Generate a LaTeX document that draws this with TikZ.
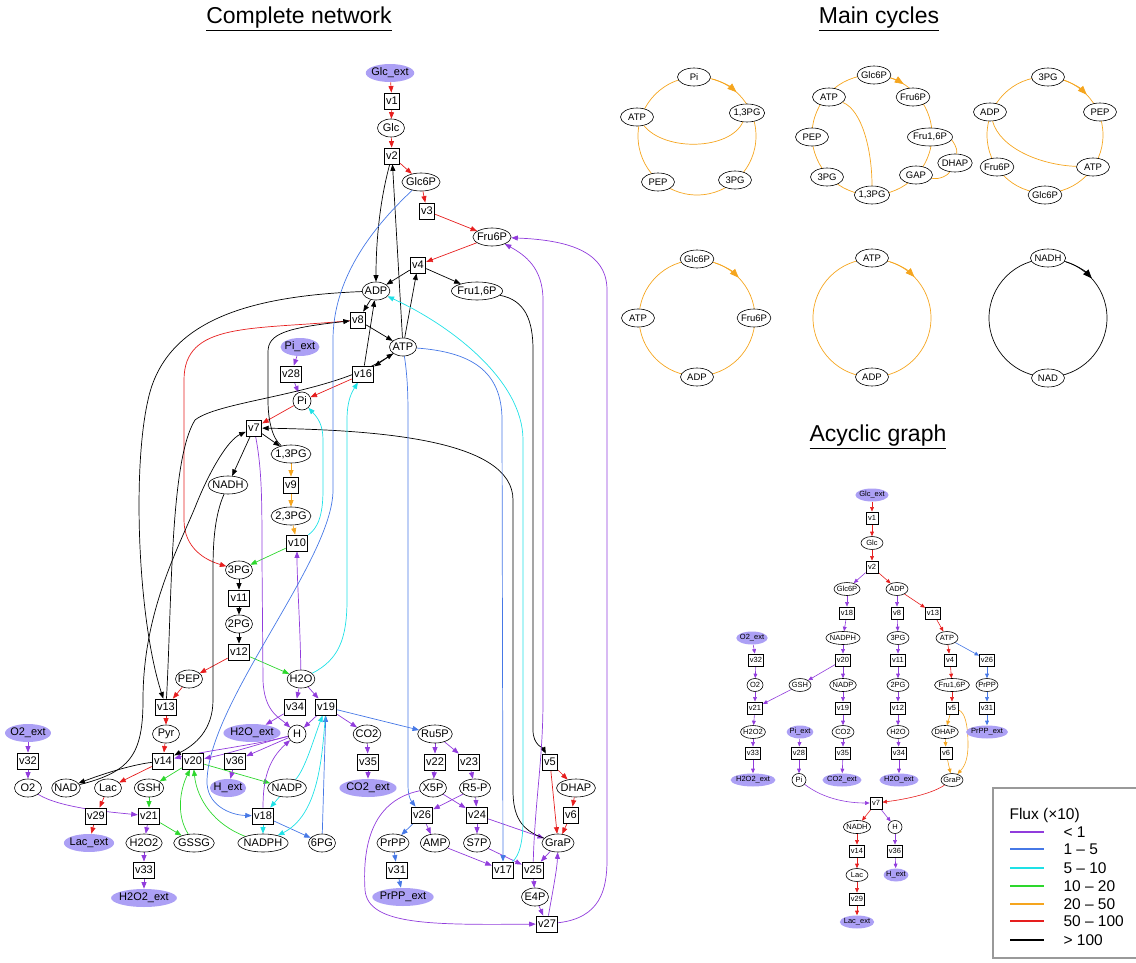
\documentclass[tikz,border=0pt]{standalone}
\usepackage{fontspec}
\setmainfont{Liberation Sans}
\usetikzlibrary{arrows.meta,shapes.geometric}
\pgfdeclarelayer{edges}
\pgfsetlayers{edges,main}
\definecolor{fluxa}{RGB}{145,60,220}
\definecolor{fluxb}{RGB}{70,120,230}
\definecolor{fluxc}{RGB}{30,225,230}
\definecolor{fluxd}{RGB}{45,215,45}
\definecolor{fluxe}{RGB}{245,165,30}
\definecolor{fluxf}{RGB}{230,30,30}
\definecolor{extfill}{RGB}{172,160,245}
\tikzset{
  ttl/.style={font=\fontsize{23}{25}\selectfont},
  met/.style={ellipse,draw,line width=0.6,fill=white,inner xsep=-1.5,inner ysep=0.5,
    minimum width=27,minimum height=18,font=\fontsize{11}{12}\selectfont},
  ext/.style={met,draw=none,fill=extfill},
  rxn/.style={rectangle,draw,line width=0.8,fill=white,inner xsep=2,inner ysep=1,
    minimum width=15,minimum height=16,font=\fontsize{11}{12}\selectfont},
  cyc/.style={met,inner xsep=-1,minimum width=33,minimum height=18,font=\fontsize{9.5}{10}\selectfont},
  acyc/.style={met,inner xsep=-1,minimum width=22,minimum height=13,font=\fontsize{7.5}{8}\selectfont},
  aext/.style={acyc,draw=none,fill=extfill},
  arxn/.style={rxn,inner xsep=1.5,inner ysep=0.5,minimum width=12,minimum height=12,font=\fontsize{7.5}{8}\selectfont},
  lgtxt/.style={anchor=west,font=\fontsize{15.5}{16}\selectfont},
  lgline/.style={line width=1.3},
  fl/.style={line width=0.7,-{Triangle[length=6.5,width=5]}},
  small/.style={line width=0.6,-{Triangle[length=4.5,width=3.8]}},
  big/.style={-{Triangle[length=9,width=7]}},
  fa/.style={fl,draw=fluxa},
  fb/.style={fl,draw=fluxb},
  fc/.style={fl,draw=fluxc},
  fd/.style={fl,draw=fluxd},
  fe/.style={fl,draw=fluxe},
  ff/.style={fl,draw=fluxf},
  fg/.style={fl,draw=black},
  ring/.style={line width=0.7}
}
\begin{document}
\begin{tikzpicture}[x=1pt,y=-1pt]
\useasboundingbox (0,0) rectangle (1136,963);

% titles
\node[ttl] (ttlNet) at (299,19) {\underline{Complete network}};
\node[ttl] (ttlCyc) at (879,19) {\underline{Main cycles}};
\node[ttl] (ttlAcy) at (878,437) {\underline{Acyclic graph}};

% ---------------- complete network
\node[ext] (Glcext) at (390,73) {Glc\_ext};
\node[rxn] (v1) at (392,101) {v1};
\node[met] (Glc) at (391,128) {Glc};
\node[rxn] (v2) at (392,156) {v2};
\node[met] (Glc6P) at (421,182) {Glc6P};
\node[rxn] (v3) at (427,211) {v3};
\node[met] (Fru6P) at (492,237) {Fru6P};
\node[rxn] (v4) at (418,265) {v4};
\node[met] (ADP) at (376,291) {ADP};
\node[met] (Fru16P) at (477,291) {Fru1,6P};
\node[rxn] (v8) at (358,320) {v8};
\node[met] (ATP) at (403,347) {ATP};
\node[ext] (Piext) at (300,347) {Pi\_ext};
\node[rxn] (v28) at (291,374) {v28};
\node[rxn] (v16) at (363,374) {v16};
\node[met,minimum width=18] (Pi) at (302,401) {Pi};
\node[rxn] (v7) at (254,428) {v7};
\node[met] (P13) at (291,454) {1,3PG};
\node[met] (NADH) at (228,485) {NADH};
\node[rxn] (v9) at (291,485) {v9};
\node[met] (P23) at (291,516) {2,3PG};
\node[rxn] (v10) at (297,543) {v10};
\node[met] (PG3) at (239,570) {3PG};
\node[rxn] (v11) at (239,598) {v11};
\node[met] (PG2) at (239,624) {2PG};
\node[rxn] (v12) at (239,652) {v12};
\node[met] (PEP) at (189,679) {PEP};
\node[met] (H2O) at (301,679) {H2O};
\node[rxn] (v13) at (166,707) {v13};
\node[rxn] (v34) at (295,707) {v34};
\node[rxn] (v19) at (326,707) {v19};
\node[ext] (O2ext) at (28,733) {O2\_ext};
\node[met] (Pyr) at (166,734) {Pyr};
\node[ext] (H2Oext) at (252,733) {H2O\_ext};
\node[met,minimum width=18] (H) at (297,734) {H};
\node[met] (CO2) at (367,734) {CO2};
\node[met] (Ru5P) at (435,734) {Ru5P};
\node[rxn] (v32) at (28,761) {v32};
\node[rxn] (v14) at (163,761) {v14};
\node[rxn] (v20) at (193,761) {v20};
\node[rxn] (v36) at (235,761) {v36};
\node[rxn] (v35) at (368,762) {v35};
\node[rxn] (v22) at (435,762) {v22};
\node[rxn] (v23) at (469,762) {v23};
\node[rxn] (v5) at (550,762) {v5};
\node[met] (O2) at (28,788) {O2};
\node[met] (NAD) at (66,788) {NAD};
\node[met] (Lac) at (108,788) {Lac};
\node[met] (GSH) at (149,788) {GSH};
\node[ext] (Hext) at (228,788) {H\_ext};
\node[met] (NADP) at (287,788) {NADP};
\node[ext] (CO2ext) at (368,788) {CO2\_ext};
\node[met] (X5P) at (433,788) {X5P};
\node[met] (R5P) at (475,788) {R5-P};
\node[met] (DHAP) at (576,788) {DHAP};
\node[rxn] (v29) at (96,816) {v29};
\node[rxn] (v21) at (149,816) {v21};
\node[rxn] (v18) at (263,816) {v18};
\node[rxn] (v26) at (422,815) {v26};
\node[rxn] (v24) at (477,815) {v24};
\node[rxn] (v6) at (571,815) {v6};
\node[ext] (Lacext) at (89,843) {Lac\_ext};
\node[met] (H2O2) at (144,843) {H2O2};
\node[met] (GSSG) at (194,843) {GSSG};
\node[met] (NADPH) at (263,843) {NADPH};
\node[met] (PG6) at (322,843) {6PG};
\node[met] (PrPP) at (393,843) {PrPP};
\node[met] (AMP) at (435,843) {AMP};
\node[met] (S7P) at (477,843) {S7P};
\node[met] (GraP) at (558,843) {GraP};
\node[rxn] (v33) at (144,870) {v33};
\node[rxn] (v31) at (397,870) {v31};
\node[rxn] (v17) at (503,870) {v17};
\node[rxn] (v25) at (533,870) {v25};
\node[ext] (H2O2ext) at (144,898) {H2O2\_ext};
\node[ext] (PrPPext) at (403,897) {PrPP\_ext};
\node[met] (E4P) at (535,897) {E4P};
\node[rxn] (v27) at (547,924) {v27};

\begin{pgfonlayer}{edges}
\foreach \a/\b in {Glcext/v1,v1/Glc,Glc/v2,v2/Glc6P,Glc6P/v3,v3/Fru6P,Fru6P/v4,v16/Pi,Pi/v7,
  v12/PEP,PEP/v13,v13/Pyr,Pyr/v14,v14/Lac,Lac/v29,v29/Lacext,v5/DHAP,v5/GraP,DHAP/v6,v6/GraP}
  \draw[ff] (\a) -- (\b);
\foreach \a/\b in {ATP/v2,ATP/v4,v4/ADP,v4/Fru16P,ADP/v8,v8/ATP,ATP/v16,v16/ADP,v7/P13,v7/NADH,
  PG3/v11,v11/PG2,PG2/v12}
  \draw[fg] (\a) -- (\b);
\foreach \a/\b in {P13/v9,v9/P23,P23/v10}
  \draw[fe] (\a) -- (\b);
\foreach \a/\b in {v10/PG3,v12/H2O,v20/GSH,v20/NADP,GSH/v21,v21/GSSG}
  \draw[fd] (\a) -- (\b);
\foreach \a/\b in {NADP/v18,v18/NADPH}
  \draw[fc] (\a) -- (\b);
\foreach \a/\b in {v18/PG6,PG6/v19,v19/Ru5P,v26/PrPP,PrPP/v31,v31/PrPPext}
  \draw[fb] (\a) -- (\b);
\foreach \a/\b in {Piext/v28,v28/Pi,H2O/v34,H2O/v19,v34/H2Oext,v19/H,v19/CO2,CO2/v35,v35/CO2ext,
  H/v36,v36/Hext,O2ext/v32,v32/O2,v21/H2O2,H2O2/v33,v33/H2O2ext,Ru5P/v22,v22/X5P,Ru5P/v23,
  v23/R5P,X5P/v24,R5P/v24,R5P/v26,v26/AMP,v24/S7P,v24/GraP,S7P/v25,GraP/v25,v25/E4P,E4P/v27,AMP/v17}
  \draw[fa] (\a) -- (\b);
% long connectors
\draw[fg] (v2) .. controls (380,200) and (376,240) .. (ADP);
\draw[fg] (Fru16P) .. controls (525,300) and (533,320) .. (533,350) -- (533,730) .. controls (533,745) and (543,748) .. (v5);
\draw[ff] (v8) .. controls (250,330) and (184,322) .. (184,380) -- (184,520) .. controls (184,548) and (205,560) .. (PG3);
\draw[fg] (P13) .. controls (272,438) and (268,420) .. (268,400) -- (268,352) .. controls (268,334) and (285,328) .. (v8);
\draw[fg] (ADP) .. controls (250,296) and (165,320) .. (148,400) .. controls (132,470) and (138,620) .. (v13);
\draw[fg] (v13) .. controls (172,600) and (170,460) .. (195,420) .. controls (220,400) and (330,395) .. (ATP);
\draw[fg] (NADH) .. controls (215,515) and (213,540) .. (213,570) -- (213,700) .. controls (213,730) and (195,745) .. (v14);
\draw[fg] (v14) .. controls (130,765) and (100,775) .. (NAD);
\draw[fg] (NAD) .. controls (130,772) and (143,755) .. (143,700) .. controls (143,610) and (180,545) .. (196,505) .. controls (210,470) and (228,440) .. (v7);
\draw[fg] (GraP) .. controls (520,830) and (513,815) .. (513,790) -- (513,500) .. controls (513,440) and (380,430) .. (v7);
\draw[fa] (v7) .. controls (262,470) and (262,500) .. (262,560) -- (263,680) .. controls (264,712) and (280,718) .. (H);
\draw[fa] (H2O) .. controls (300,620) and (297,580) .. (v10);
\draw[fc] (H2O) .. controls (338,660) and (347,640) .. (347,600) -- (347,420) .. controls (347,400) and (352,392) .. (v16);
\draw[fc] (v10) .. controls (318,528) and (323,515) .. (323,490) -- (323,440) .. controls (323,425) and (318,418) .. (Pi);
\draw[fb] (Glc6P) .. controls (370,230) and (333,280) .. (333,340) -- (333,490) .. controls (333,560) and (210,700) .. (207,780) .. controls (206,805) and (230,815) .. (v18);
\draw[fb] (ATP) .. controls (408,380) and (408,400) .. (408,420) -- (408,785) .. controls (408,798) and (412,802) .. (v26);
\draw[fb] (ATP) .. controls (470,352) and (502,370) .. (502,420) -- (v17);
\draw[fc] (v17) .. controls (520,855) and (523,840) .. (523,820) -- (523,440) .. controls (523,380) and (450,325) .. (ADP);
\draw[fa] (v25) .. controls (535,800) and (543,760) .. (543,700) -- (543,300) .. controls (543,268) and (525,255) .. (Fru6P);
\draw[fa] (v27) .. controls (600,918) and (607,890) .. (607,860) -- (607,290) .. controls (607,250) and (565,240) .. (Fru6P);
\draw[fa] (X5P) .. controls (375,800) and (362,840) .. (365,890) .. controls (368,925) and (430,925) .. (v27);
\draw[fa] (v27) .. controls (552,895) and (557,870) .. (GraP);
\draw[fa] (v18) .. controls (263,780) and (268,760) .. (H);
\draw[fd] (NADPH) .. controls (215,825) and (197,800) .. (v20);
\draw[fd] (GSSG) .. controls (176,815) and (180,790) .. ([xshift=-3]v20.south);
\draw[fa] (O2) .. controls (60,808) and (110,812) .. (v21);
\draw[fa] (H) .. controls (255,745) and (210,750) .. (v14);
\draw[fa] (H) .. controls (265,742) and (235,752) .. (v20);
\draw[fc] (NADP) .. controls (305,770) and (315,735) .. (v19);
\draw[fc] (v19) .. controls (322,760) and (318,815) .. (NADPH);
\end{pgfonlayer}

% ---------------- main cycles
\coordinate (cA) at (697,136);
\coordinate (cB) at (872,135);
\coordinate (cC) at (1045,135);
\coordinate (cD) at (697,318);
\coordinate (cE) at (872,318);
\coordinate (cF) at (1048,318);
\draw[ring,fluxe] (cA) circle[radius=59];
\draw[ring,fluxe] (cB) circle[radius=60];
\draw[ring,fluxe] (cC) circle[radius=58];
\draw[ring,fluxe] (cD) circle[radius=58];
\draw[ring,fluxe] (cE) circle[radius=59];
\draw[ring] (cF) circle[radius=59];
\draw[fe,big] ([shift={(-75:59)}]cA) arc[start angle=-75,end angle=-48,radius=59];
\draw[fe,big] ([shift={(-78:60)}]cB) arc[start angle=-78,end angle=-58,radius=60];
\draw[fe,big] ([shift={(-72:58)}]cC) arc[start angle=-72,end angle=-44,radius=58];
\draw[fe,big] ([shift={(-72:58)}]cD) arc[start angle=-72,end angle=-44,radius=58];
\draw[fe,big] ([shift={(-72:59)}]cE) arc[start angle=-72,end angle=-44,radius=59];
\draw[fg,big] ([shift={(-72:59)}]cF) arc[start angle=-72,end angle=-42,radius=59];

\node[cyc] (k1Pi) at (694,77) {Pi};
\node[cyc] (k1P13) at (747,113) {1,3PG};
\node[cyc] (k1PG3) at (735,180) {3PG};
\node[cyc] (k1PEP) at (658,182) {PEP};
\node[cyc] (k1ATP) at (637,117) {ATP};
\draw[ring,fluxe] (k1ATP) .. controls (665,152) and (730,150) .. (k1P13);

\node[cyc] (k2G6P) at (874,75) {Glc6P};
\node[cyc] (k2F6P) at (913,97) {Fru6P};
\node[cyc] (k2F16) at (930,137) {Fru1,6P};
\node[cyc] (k2DHAP) at (955,163) {DHAP};
\node[cyc] (k2GAP) at (916,175) {GAP};
\node[cyc] (k2P13) at (872,195) {1,3PG};
\node[cyc] (k2PG3) at (827,177) {3PG};
\node[cyc] (k2PEP) at (812,137) {PEP};
\node[cyc] (k2ATP) at (829,97) {ATP};
\draw[ring,fluxe] (k2ATP) .. controls (862,110) and (872,150) .. (k2P13);
\draw[ring,fluxe] (k2F16) .. controls (952,140) and (958,148) .. (k2DHAP);
\draw[ring,fluxe] (k2DHAP) .. controls (948,175) and (940,180) .. (k2GAP);

\node[cyc] (k3PG3) at (1048,77) {3PG};
\node[cyc] (k3PEP) at (1100,112) {PEP};
\node[cyc] (k3ATP) at (1093,167) {ATP};
\node[cyc] (k3G6P) at (1045,195) {Glc6P};
\node[cyc] (k3F6P) at (997,167) {Fru6P};
\node[cyc] (k3ADP) at (990,112) {ADP};
\draw[ring,fluxe] (k3ADP) .. controls (1000,148) and (1040,165) .. (k3ATP);

\node[cyc] (k4G6P) at (697,259) {Glc6P};
\node[cyc] (k4F6P) at (754,318) {Fru6P};
\node[cyc] (k4ADP) at (697,377) {ADP};
\node[cyc] (k4ATP) at (638,318) {ATP};

\node[cyc] (k5ATP) at (872,258) {ATP};
\node[cyc] (k5ADP) at (872,377) {ADP};

\node[cyc] (k6NADH) at (1048,258) {NADH};
\node[cyc] (k6NAD) at (1048,378) {NAD};

% ---------------- acyclic graph
\node[aext] (aGlcext) at (872,495) {Glc\_ext};
\node[arxn] (av1) at (872,518) {v1};
\node[acyc] (aGlc) at (872,543) {Glc};
\node[arxn] (av2) at (872,567) {v2};
\node[acyc] (aGlc6P) at (847,589) {Glc6P};
\node[acyc] (aADP) at (897,589) {ADP};
\node[arxn] (av18) at (847,613) {v18};
\node[arxn] (av8) at (897,613) {v8};
\node[arxn] (av13) at (933,613) {v13};
\node[aext] (aO2ext) at (752,638) {O2\_ext};
\node[acyc] (aNADPH) at (843,638) {NADPH};
\node[acyc] (aPG3) at (898,638) {3PG};
\node[acyc] (aATP) at (947,638) {ATP};
\node[arxn] (av32) at (756,660) {v32};
\node[arxn] (av20) at (843,660) {v20};
\node[arxn] (av11) at (898,660) {v11};
\node[arxn] (av4) at (950,660) {v4};
\node[arxn] (av26) at (987,660) {v26};
\node[acyc,minimum width=16] (aO2) at (755,685) {O2};
\node[acyc] (aGSH) at (800,685) {GSH};
\node[acyc] (aNADP) at (843,685) {NADP};
\node[acyc] (aPG2) at (898,685) {2PG};
\node[acyc] (aFru16P) at (952,685) {Fru1,6P};
\node[acyc] (aPrPP) at (987,685) {PrPP};
\node[arxn] (av21) at (755,708) {v21};
\node[arxn] (av19) at (843,708) {v19};
\node[arxn] (av12) at (898,708) {v12};
\node[arxn] (av5) at (952,708) {v5};
\node[arxn] (av31) at (987,708) {v31};
\node[acyc] (aH2O2) at (753,732) {H2O2};
\node[aext] (aPiext) at (800,732) {Pi\_ext};
\node[acyc] (aCO2) at (843,732) {CO2};
\node[acyc] (aH2O) at (898,732) {H2O};
\node[acyc] (aDHAP) at (945,732) {DHAP};
\node[aext] (aPrPPext) at (987,732) {PrPP\_ext};
\node[arxn] (av33) at (753,753) {v33};
\node[arxn] (av28) at (799,753) {v28};
\node[arxn] (av35) at (843,753) {v35};
\node[arxn] (av34) at (899,753) {v34};
\node[arxn] (av6) at (946,753) {v6};
\node[aext] (aH2O2ext) at (753,780) {H2O2\_ext};
\node[acyc,minimum width=14] (aPi) at (799,780) {Pi};
\node[aext] (aCO2ext) at (842,780) {CO2\_ext};
\node[aext] (aH2Oext) at (899,780) {H2O\_ext};
\node[acyc] (aGraP) at (952,780) {GraP};
\node[arxn] (av7) at (876,803) {v7};
\node[acyc] (aNADH) at (857,827) {NADH};
\node[acyc,minimum width=14] (aH) at (895,827) {H};
\node[arxn] (av14) at (857,851) {v14};
\node[arxn] (av36) at (895,851) {v36};
\node[acyc] (aLac) at (857,875) {Lac};
\node[aext] (aHext) at (896,875) {H\_ext};
\node[arxn] (av29) at (857,899) {v29};
\node[aext] (aLacext) at (857,922) {Lac\_ext};

\begin{pgfonlayer}{edges}
\foreach \a/\b in {aGlcext/av1,av1/aGlc,aGlc/av2,av2/aADP,aADP/av13,av13/aATP,aATP/av4,av4/aFru16P,
  aFru16P/av5,av7/aNADH,aNADH/av14,av14/aLac,aLac/av29,av29/aLacext}
  \draw[ff,small] (\a) -- (\b);
\foreach \a/\b in {av2/aGlc6P,aGlc6P/av18,av18/aNADPH,aNADPH/av20,av20/aGSH,av20/aNADP,aGSH/av21,
  aNADP/av19,av19/aCO2,aCO2/av35,av35/aCO2ext,aADP/av8,av8/aPG3,aPG3/av11,av11/aPG2,aPG2/av12,
  av12/aH2O,aH2O/av34,av34/aH2Oext,aO2ext/av32,av32/aO2,aO2/av21,av21/aH2O2,aH2O2/av33,
  av33/aH2O2ext,aPiext/av28,av28/aPi,av7/aH,aH/av36,av36/aHext}
  \draw[fa,small] (\a) -- (\b);
\foreach \a/\b in {av5/aDHAP,aDHAP/av6,av6/aGraP}
  \draw[fe,small] (\a) -- (\b);
\foreach \a/\b in {aATP/av26,av26/aPrPP,aPrPP/av31,av31/aPrPPext}
  \draw[fb,small] (\a) -- (\b);
\draw[fa,small] (aPi) .. controls (825,800) and (850,803) .. (av7);
\draw[ff,small] (aGraP) .. controls (930,795) and (900,800) .. (av7);
\draw[fe,small] (av5) .. controls (965,712) and (968,725) .. (968,745) .. controls (968,762) and (963,768) .. (aGraP);
\end{pgfonlayer}

% ---------------- legend
\draw[gray!80,line width=1.5] (993,788) rectangle (1145,958);
\node[lgtxt] (lgTitle) at (1006,815) {Flux (×10)};
\draw[lgline,draw=fluxa] (1010,832) -- (1044,832);
\node[lgtxt] (lgA) at (1060,832) {< 1};
\draw[lgline,draw=fluxb] (1010,849) -- (1044,849);
\node[lgtxt] (lgB) at (1060,849) {1 – 5};
\draw[lgline,draw=fluxc] (1010,868) -- (1044,868);
\node[lgtxt] (lgC) at (1060,868) {5 – 10};
\draw[lgline,draw=fluxd] (1010,886) -- (1044,886);
\node[lgtxt] (lgD) at (1060,886) {10 – 20};
\draw[lgline,draw=fluxe] (1010,904) -- (1044,904);
\node[lgtxt] (lgE) at (1060,904) {20 – 50};
\draw[lgline,draw=fluxf] (1010,921) -- (1044,921);
\node[lgtxt] (lgF) at (1060,921) {50 – 100};
\draw[lgline,draw=black] (1010,940) -- (1044,940);
\node[lgtxt] (lgG) at (1060,940) {> 100};
\end{tikzpicture}
\end{document}
